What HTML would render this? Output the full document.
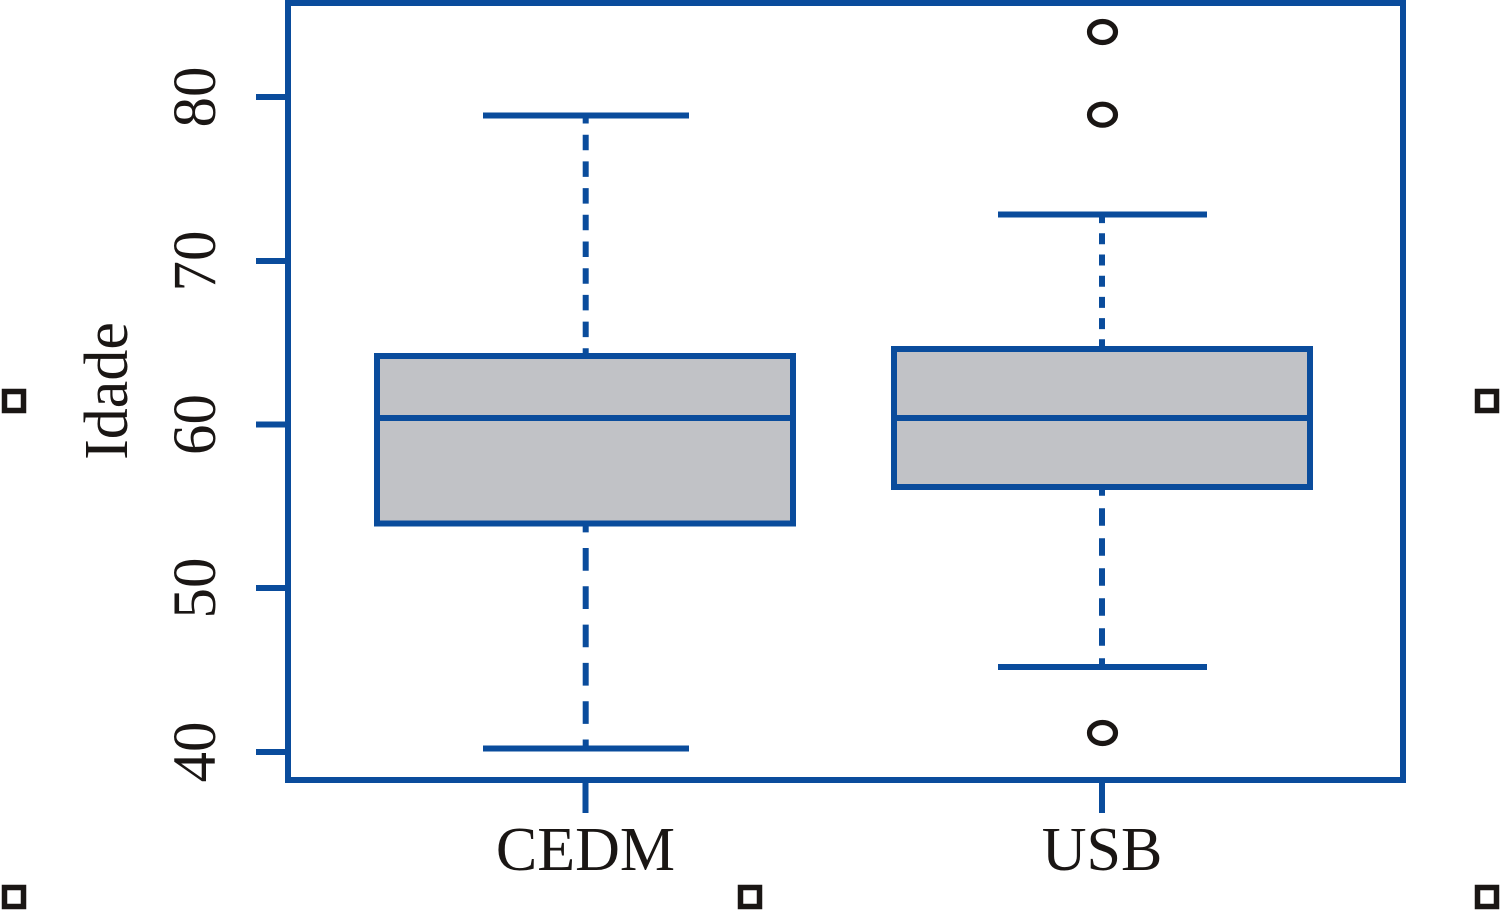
<!DOCTYPE html>
<html>
<head>
<meta charset="utf-8">
<style>
  html, body { margin: 0; padding: 0; background: #ffffff; }
  svg { display: block; }
  text { font-family: "Liberation Serif", "Times New Roman", serif; fill: #1a1614; }
</style>
</head>
<body>
<svg width="1500" height="912" viewBox="0 0 1500 912" xmlns="http://www.w3.org/2000/svg">
  <rect x="0" y="0" width="1500" height="912" fill="#ffffff"/>

  <!-- plot frame -->
  <rect x="288" y="3" width="1115" height="777" fill="none" stroke="#0a4c9c" stroke-width="6"/>

  <!-- y ticks -->
  <g stroke="#0a4c9c" stroke-width="6">
    <line x1="256" y1="97" x2="288" y2="97"/>
    <line x1="256" y1="261" x2="288" y2="261"/>
    <line x1="256" y1="424.5" x2="288" y2="424.5"/>
    <line x1="256" y1="588" x2="288" y2="588"/>
    <line x1="256" y1="752" x2="288" y2="752"/>
    <!-- x ticks -->
    <line x1="585.5" y1="780" x2="585.5" y2="813"/>
    <line x1="1102" y1="780" x2="1102" y2="813"/>
  </g>

  <!-- y tick labels -->
  <g font-size="61" text-anchor="middle">
    <text transform="translate(215,97) rotate(-90)">80</text>
    <text transform="translate(215,261) rotate(-90)">70</text>
    <text transform="translate(215,424.5) rotate(-90)">60</text>
    <text transform="translate(215,588) rotate(-90)">50</text>
    <text transform="translate(215,752) rotate(-90)">40</text>
  </g>
  <text font-size="62" text-anchor="middle" transform="translate(127,391) rotate(-90)">Idade</text>

  <!-- x labels -->
  <text x="585.5" y="870" font-size="62" text-anchor="middle">CEDM</text>
  <text x="1102" y="870" font-size="62" text-anchor="middle">USB</text>

  <!-- CEDM whiskers -->
  <g stroke="#0a4c9c" stroke-width="6" fill="none">
    <line x1="585.7" y1="115.5" x2="585.7" y2="356" stroke-dasharray="15.5 11.2" stroke-dashoffset="7.5"/>
    <line x1="585.7" y1="509.7" x2="585.7" y2="748.5" stroke-dasharray="22.7 15.6"/>
    <line x1="483" y1="115.5" x2="689" y2="115.5"/>
    <line x1="483" y1="748.5" x2="689" y2="748.5"/>
  </g>
  <!-- CEDM box -->
  <rect x="377" y="356" width="416" height="167.5" fill="#c1c2c6" stroke="#0a4c9c" stroke-width="6"/>
  <line x1="377" y1="418" x2="793" y2="418" stroke="#0a4c9c" stroke-width="6"/>

  <!-- USB whiskers -->
  <g stroke="#0a4c9c" stroke-width="6" fill="none">
    <line x1="1102" y1="214.5" x2="1102" y2="349" stroke-dasharray="11 10.2" stroke-dashoffset="2.4"/>
    <line x1="1102" y1="478.3" x2="1102" y2="667" stroke-dasharray="17.5 12.5"/>
    <line x1="998" y1="214.5" x2="1207" y2="214.5"/>
    <line x1="998" y1="667" x2="1207" y2="667"/>
  </g>
  <!-- USB box -->
  <rect x="894" y="349" width="416" height="138" fill="#c1c2c6" stroke="#0a4c9c" stroke-width="6"/>
  <line x1="894" y1="418" x2="1310" y2="418" stroke="#0a4c9c" stroke-width="6"/>

  <!-- outliers -->
  <g fill="none" stroke="#1a1614" stroke-width="5.2">
    <ellipse cx="1102.5" cy="32" rx="13" ry="10.5"/>
    <ellipse cx="1102.5" cy="114.7" rx="13" ry="10.5"/>
    <ellipse cx="1102.5" cy="733" rx="13" ry="10.5"/>
  </g>

  <!-- corner markers -->
  <g fill="none" stroke="#1a1614" stroke-width="5.5">
    <rect x="4.5" y="391.5" width="19" height="19"/>
    <rect x="1477.5" y="391.5" width="19" height="19"/>
    <rect x="4.5" y="887.5" width="19" height="19"/>
    <rect x="740.5" y="887.5" width="19" height="19"/>
    <rect x="1477.5" y="887.5" width="19" height="19"/>
  </g>
</svg>
</body>
</html>
